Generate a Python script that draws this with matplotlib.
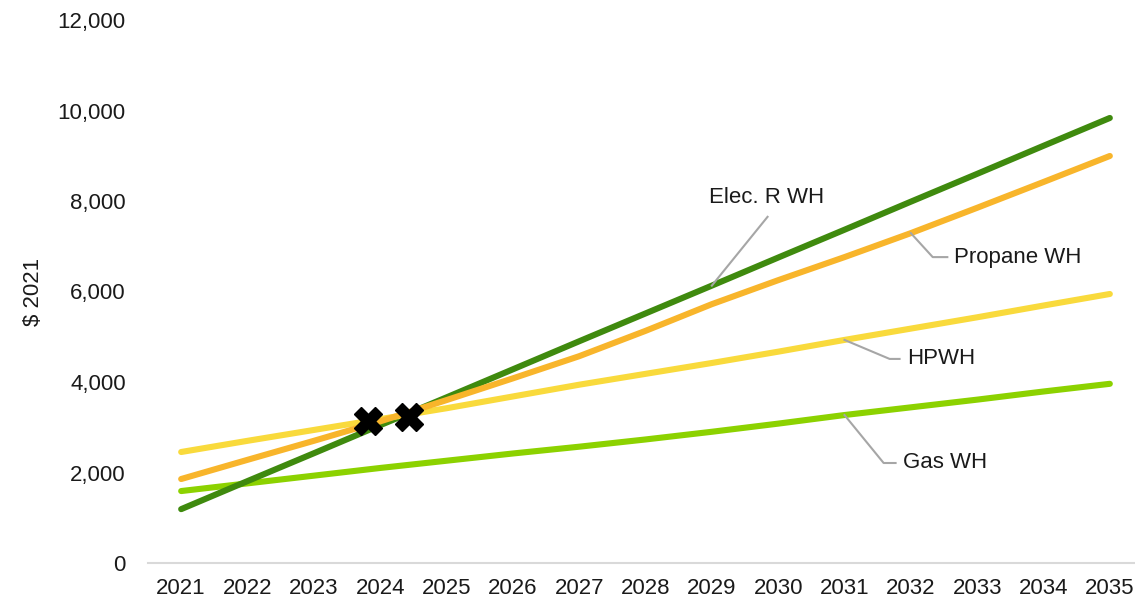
import matplotlib.pyplot as plt

plt.rcParams['font.family'] = ['Liberation Sans', 'DejaVu Sans']

years = list(range(2021, 2036))

elec_r = [1190, 1810, 2425, 3045, 3660, 4280, 4900, 5515, 6130, 6750, 7365, 7985, 8600, 9220, 9835]
propane = [1856, 2280, 2700, 3130, 3600, 4080, 4570, 5130, 5720, 6250, 6760, 7290, 7850, 8420, 8995]
hpwh = [2453, 2700, 2940, 3180, 3420, 3680, 3940, 4180, 4420, 4670, 4930, 5180, 5430, 5690, 5945]
gas = [1590, 1760, 1930, 2100, 2260, 2420, 2570, 2730, 2900, 3080, 3270, 3440, 3610, 3790, 3960]

# crossing markers
cross_x = [2023.82, 2024.43]
cross_y = [3138, 3227]

fig = plt.figure(figsize=(11.35, 6.03), dpi=100)
ax = fig.add_axes([148 / 1135, 1 - 563 / 603, 995 / 1135, 543 / 603])

lw = 4.4
ax.plot(years, gas, color='#8CD200', lw=lw, solid_capstyle='round', zorder=2)
ax.plot(years, elec_r, color='#3F8A0E', lw=lw, solid_capstyle='round', zorder=3)
ax.plot(years, hpwh, color='#F9DA3C', lw=lw, solid_capstyle='round', zorder=3)
ax.plot(years, propane, color='#F8B52B', lw=lw, solid_capstyle='round', zorder=4)
ax.plot(cross_x, cross_y, linestyle='none', marker='X', markersize=20,
        color='black', markeredgecolor='black', zorder=5)

# labels with gray leader lines
fs = 16
lead_kw = dict(color='#A6A6A6', lw=1.5, zorder=6)
txt_kw = dict(fontsize=fs, color='#1a1a1a')

ax.plot([2029, 2029.84], [elec_r[8], 7650], **lead_kw)
ax.text(2029.83, 8070, 'Elec. R WH', ha='center', va='center', **txt_kw)

ax.plot([2032, 2032.33, 2032.55], [propane[11], 6760, 6760], **lead_kw)
ax.text(2032.65, 6760, 'Propane WH', ha='left', va='center', **txt_kw)

ax.plot([2031, 2031.68, 2031.83], [hpwh[10], 4510, 4510], **lead_kw)
ax.text(2031.95, 4510, 'HPWH', ha='left', va='center', **txt_kw)

ax.plot([2031, 2031.59, 2031.77], [gas[10], 2210, 2210], **lead_kw)
ax.text(2031.88, 2210, 'Gas WH', ha='left', va='center', **txt_kw)

ax.set_xlim(2020.5, 2035.5)
ax.set_ylim(0, 12000)
ax.set_xticks(years)
ax.set_xticklabels([str(y) for y in years])
ax.set_yticks(range(0, 12001, 2000))
ax.set_yticklabels(['{:,}'.format(v) for v in range(0, 12001, 2000)])
ax.tick_params(axis='both', length=0, labelsize=fs, colors='#1a1a1a')
ax.tick_params(axis='y', pad=16)
ax.tick_params(axis='x', pad=11)
for s in ['top', 'right', 'left']:
    ax.spines[s].set_visible(False)
ax.spines['bottom'].set_color('#D9D9D9')
ax.spines['bottom'].set_linewidth(1.5)
ax.set_ylabel('$ 2021', fontsize=fs, color='#1a1a1a', labelpad=10)

fig.savefig('out.png', dpi=100)
